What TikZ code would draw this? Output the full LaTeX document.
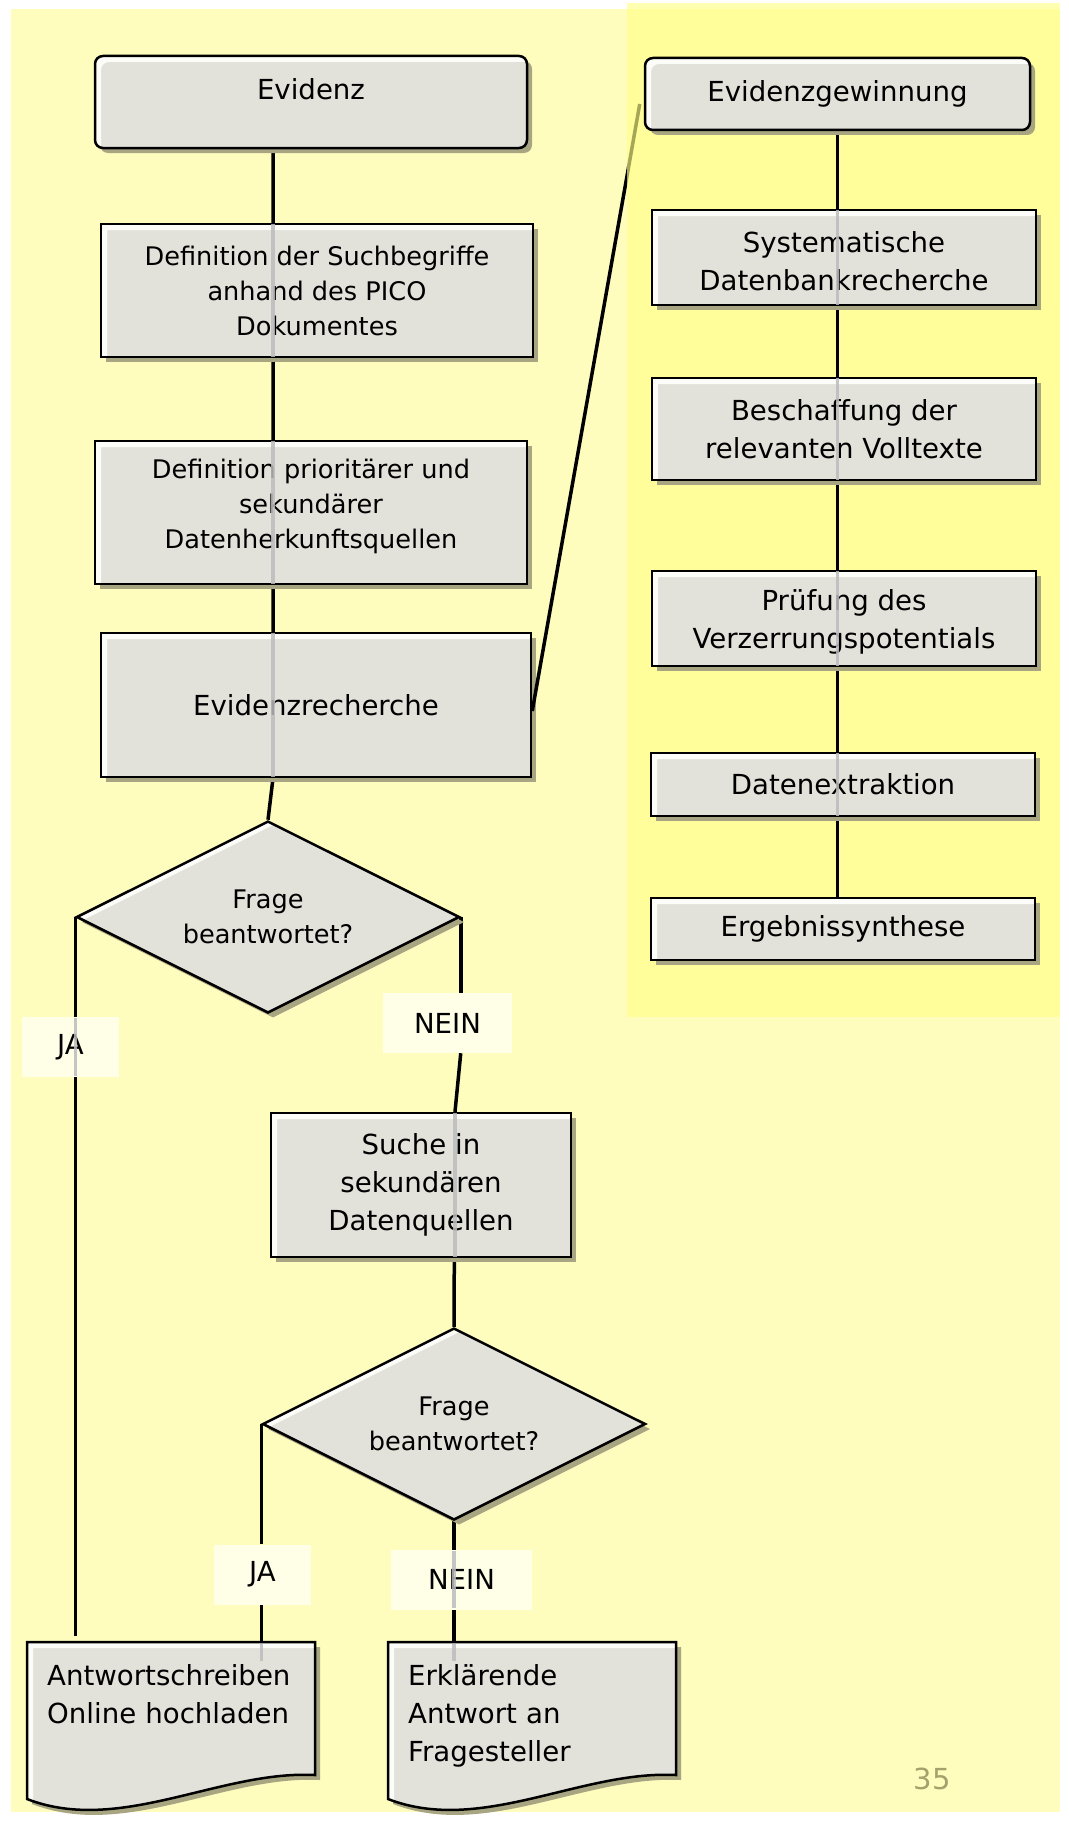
\documentclass[tikz,border=0pt]{standalone}
\usepackage{fontspec}
\setmainfont{DejaVu Sans}
\usetikzlibrary{shapes.geometric,shadows,backgrounds,calc}

\pgfdeclarelayer{panel}
\pgfdeclarelayer{top}
\pgfsetlayers{background,main,panel,top}

\definecolor{pagebg}{RGB}{255,253,190}
\definecolor{panelbg}{RGB}{255,255,136}
\definecolor{boxfill}{RGB}{226,225,218}
\definecolor{bevelc}{RGB}{252,252,248}
\definecolor{shadowc}{RGB}{168,165,130}
\definecolor{labfill}{RGB}{255,255,232}
\definecolor{thrugray}{RGB}{188,188,190}
\definecolor{pagenum}{RGB}{166,161,108}

\newcommand{\flowbig}{\fontsize{27.6pt}{38pt}\selectfont}
\newcommand{\flowsmall}{\fontsize{25.6pt}{35pt}\selectfont}

\begin{document}
\begin{tikzpicture}
      [
        x = 1pt, y = -1pt,
        boxbase/.style = {draw, line width = 2.5pt, fill = boxfill, inner sep = 0pt, align = center,
            drop shadow = {shadow xshift = 5pt, shadow yshift = -5pt, fill = shadowc, opacity = 1}},
        bevelrect/.style = {path picture = {
            \fill[bevelc, even odd rule]
              (path picture bounding box.north west) rectangle (path picture bounding box.south east)
              ([shift={(6pt,-6pt)}]path picture bounding box.north west) rectangle ([shift={(6pt,-6pt)}]path picture bounding box.south east);}},
        beveldia/.style = {path picture = {
            \fill[bevelc, even odd rule]
              (path picture bounding box.north) -- (path picture bounding box.east) -- (path picture bounding box.south) -- (path picture bounding box.west) -- cycle
              ([shift={(6pt,-3pt)}]path picture bounding box.north) -- ([shift={(6pt,-3pt)}]path picture bounding box.east) -- ([shift={(6pt,-3pt)}]path picture bounding box.south) -- ([shift={(6pt,-3pt)}]path picture bounding box.west) -- cycle;}},
        proc/.style = {boxbase, bevelrect, rectangle, font = \flowbig},
        procsmall/.style = {proc, font = \flowsmall},
        term/.style = {proc, rounded corners = 8pt},
        dec/.style = {boxbase, beveldia, diamond, aspect = 2, font = \flowsmall, minimum width = 383pt, minimum height = 192pt},
        answer/.style = {fill = labfill, font = \flowbig, inner sep = 0pt, minimum height = 60pt},
        doc/.style = {boxbase, bevelrect},
        doctext/.style = {anchor = north west, align = left, text width = 262pt, inner xsep = 20pt, inner ysep = 22pt, font = \flowbig},
        conn/.style = {line width = 3.5pt},
        thru/.style = {line width = 3.5pt, draw = thrugray, opacity = 0.85, shorten <= 1.5pt, shorten >= 1.5pt},
      ]

      \useasboundingbox (0,0) rectangle (1068,1825);

      \node[term, minimum width = 432pt, minimum height = 92pt, text depth = 25pt] (evid) at (311,102) {Evidenz};
      \node[procsmall, minimum width = 432pt, minimum height = 133pt] (suchbeg) at (317,290.5) {Definition der Suchbegriffe\\anhand des PICO\\Dokumentes};
      \node[procsmall, minimum width = 432pt, minimum height = 143pt, text depth = 18pt] (quellen) at (311,512.5) {Definition prioritärer und\\sekundärer\\Datenherkunftsquellen};
      \node[proc, minimum width = 430pt, minimum height = 144pt] (recher) at (316,705) {Evidenzrecherche};
      \node[dec] (dec1) at (268,917) {Frage\\beantwortet?};

      \begin{pgfonlayer}{top}
        \node[term, minimum width = 385pt, minimum height = 72pt] (gewin) at (837.5,94) {Evidenzgewinnung};
        \node[proc, minimum width = 384pt, minimum height = 95pt, text height = 66pt] (system) at (844,257.5) {Systematische\\Datenbankrecherche};
        \node[proc, minimum width = 384pt, minimum height = 102pt] (volltext) at (844,429) {Beschaffung der\\relevanten Volltexte};
        \node[proc, minimum width = 384pt, minimum height = 95pt, text height = 66pt] (bias) at (844,618.5) {Prüfung des\\Verzerrungspotentials};
        \node[proc, minimum width = 384pt, minimum height = 63pt] (extrakt) at (843,784.5) {Datenextraktion};
        \node[proc, minimum width = 384pt, minimum height = 62pt] (synth) at (843,929) {Ergebnissynthese};
        \foreach \n in {system, volltext, bias, extrakt}
          \draw[thru] (\n.north -| gewin.south) -- (\n.south -| gewin.south);
      \end{pgfonlayer}

      \node[answer, minimum width = 97pt] (jaA) at (70.5,1047) {JA};
      \node[answer, minimum width = 129pt] (neinA) at (447.5,1023) {NEIN};
      \node[proc, minimum width = 300pt, minimum height = 144pt] (sekund) at (421,1185) {Suche in\\sekundären\\Datenquellen};
      \node[dec] (dec2) at (454,1424) {Frage\\beantwortet?};
      \node[answer, minimum width = 97pt] (jaB) at (262.5,1574.5) {JA};
      \node[answer, minimum width = 141pt] (neinB) at (461.5,1579.5) {NEIN};

      \path[doc] (27,1642) -- (315,1642) -- (315,1775) .. controls (220,1770) and (120,1835) .. (27,1799) -- cycle;
      \path[doc] (388,1642) -- (676,1642) -- (676,1775) .. controls (581,1770) and (481,1835) .. (388,1799) -- cycle;
      \node[doctext] (antw) at (27,1642) {Antwortschreiben\\Online hochladen};
      \node[doctext] (erkl) at (388,1642) {Erklärende\\Antwort an\\Fragesteller};

      \node[text = pagenum, font = \fontsize{29pt}{29pt}\selectfont] (pnum) at (932,1779) {35};

      \coordinate (colL) at (273,0);
      \coordinate (colM) at (455,0);

      \begin{scope}[on background layer]
        \fill[pagebg] (11,9) rectangle (1060,1812);
        \draw[conn] (evid.south -| colL) -- (recher.south -| colL) -- (dec1.north);
        \draw[conn] (dec1.west) -- ($(dec1.west |- antw.north) + (0,-6)$);
        \draw[conn] (dec1.east) -- (neinA.north -| dec1.east);
        \draw[conn] (neinA.south -| dec1.east) -- (sekund.north -| colM) -- (dec2.north);
        \draw[conn] (dec2.west) -- (jaB.north -| dec2.west);
        \draw[conn] (jaB.south -| dec2.west) -- (dec2.west |- antw.north);
        \draw[conn] (dec2.south) -- (dec2.south |- erkl.north);
      \end{scope}

      \begin{pgfonlayer}{panel}
        \draw[conn] ($(recher.east)+(0,6)$) -- ($(gewin.west)+(-4,10)$);
        \fill[panelbg, fill opacity = 0.65] (627,3) rectangle (1060,1017);
        \draw[conn] (gewin.south) -- (synth.north -| gewin.south);
      \end{pgfonlayer}

      \foreach \n in {suchbeg, quellen, recher}
        \draw[thru] (\n.north -| colL) -- (\n.south -| colL);
      \draw[thru] (sekund.north -| colM) -- (sekund.south -| colM);
      \draw[thru] (jaA.north -| dec1.west) -- (jaA.south -| dec1.west);
      \draw[thru] (neinB.north -| dec2.south) -- (neinB.south -| dec2.south);
      \draw[thru] (antw.north -| dec2.west) -- ++(0,20);
      \draw[thru] (erkl.north -| dec2.south) -- ++(0,20);

\end{tikzpicture}
\end{document}
